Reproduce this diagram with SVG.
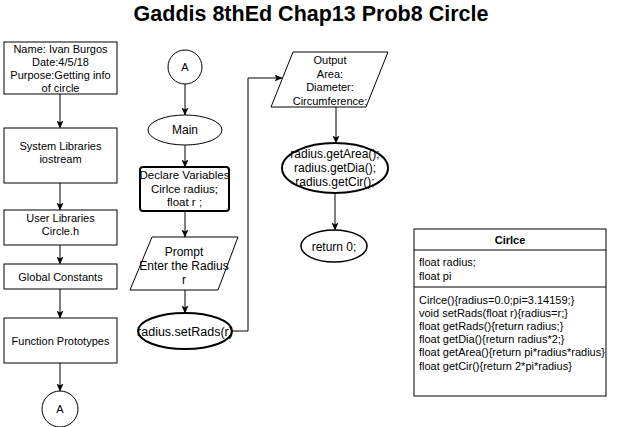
<svg xmlns="http://www.w3.org/2000/svg" width="622" height="427" viewBox="0 0 622 427">
<defs>
<marker id="arr" viewBox="0 0 8 7" refX="7.5" refY="3.5" markerWidth="8" markerHeight="7" markerUnits="userSpaceOnUse" orient="auto">
<path d="M0,0 L8,3.5 L0,7 L2,3.5 z" fill="#000"/>
</marker>
</defs>
<style>
text{font-family:"Liberation Sans",Arial,sans-serif;font-size:11px;fill:#000}
.c{text-anchor:middle}
.m{font-size:12px}
.m5{font-size:11.5px}
.l{font-size:12.5px}
.s{fill:#fff;stroke:#000;stroke-width:1}
.b{fill:#fff;stroke:#000;stroke-width:2}
.ln{fill:none;stroke:#000;stroke-width:1;marker-end:url(#arr)}
.t{font-size:21.5px;font-weight:bold}
</style>
<rect width="622" height="427" fill="#fff"/>
<text class="c t" x="311" y="21">Gaddis 8thEd Chap13 Prob8 Circle</text>

<g id="connectors">
<path class="ln" d="M60,94 V128"/>
<path class="ln" d="M60,183 V210"/>
<path class="ln" d="M60,245 V264"/>
<path class="ln" d="M60,289 V318"/>
<path class="ln" d="M60,363 V391"/>
<path class="ln" d="M185,84 V115"/>
<path class="ln" d="M185,145 V167"/>
<path class="ln" d="M185,211 V237"/>
<path class="ln" d="M185,290 V313"/>
<path class="ln" d="M232,331 H248 V78 H282"/>
<path class="ln" d="M336,107 V143"/>
<path class="ln" d="M335,193 V230"/>
</g>

<g id="info">
<rect class="s" x="4" y="42" width="113" height="52"/>
<text class="c" x="60.5" y="53">Name: Ivan Burgos</text>
<text class="c" x="60.5" y="66">Date:4/5/18</text>
<text class="c" x="60.5" y="79">Purpose:Getting info</text>
<text class="c" x="60.5" y="92">of circle</text>
</g>
<g id="syslib">
<rect class="s" x="4" y="128" width="113" height="55"/>
<text class="c" x="60.5" y="150">System Libraries</text>
<text class="c" x="60.5" y="163">iostream</text>
</g>
<g id="userlib">
<rect class="s" x="4" y="210" width="113" height="35"/>
<text class="c" x="60.5" y="222">User Libraries</text>
<text class="c" x="60.5" y="235">Circle.h</text>
</g>
<g id="globals">
<rect class="s" x="4" y="264" width="113" height="25"/>
<text class="c" x="60.5" y="281">Global Constants</text>
</g>
<g id="protos">
<rect class="s" x="4" y="318" width="113" height="45"/>
<text class="c" x="60.5" y="345">Function Prototypes</text>
</g>
<g id="connA1">
<circle class="s" cx="60" cy="409" r="18"/>
<text class="c" x="60" y="413">A</text>
</g>

<g id="connA2">
<circle class="s" cx="185" cy="67" r="17"/>
<text class="c" x="185" y="71">A</text>
</g>
<g id="main">
<ellipse class="s" cx="185" cy="130" rx="37" ry="15"/>
<text class="c m" x="185" y="134">Main</text>
</g>
<g id="declare">
<rect class="b" x="140" y="167" width="89" height="44" rx="3"/>
<text class="c m5" x="184.5" y="179">Declare Variables</text>
<text class="c m5" x="184.5" y="193">Cirlce radius;</text>
<text class="c m5" x="184.5" y="206">float r ;</text>
</g>
<g id="prompt">
<polygon class="s" points="152,237 238,237 218,290 130,290"/>
<text class="c m" x="184" y="256">Prompt</text>
<text class="c m" x="184" y="270">Enter the Radius</text>
<text class="c m" x="184" y="284">r</text>
</g>
<g id="setrads">
<ellipse class="b" cx="185" cy="331" rx="47" ry="18"/>
<text class="c l" x="185" y="335.5">radius.setRads(r)</text>
</g>

<g id="output">
<polygon class="s" points="293,52 388,52 366,107 271,107"/>
<text class="c" x="330" y="64">Output</text>
<text class="c" x="330" y="77.5">Area:</text>
<text class="c" x="330" y="91">Diameter:</text>
<text class="c" x="330" y="104.5">Circumference:</text>
</g>
<g id="getters">
<ellipse class="b" cx="335" cy="168" rx="53" ry="25"/>
<text class="c m" x="335" y="157.5">radius.getArea();</text>
<text class="c m" x="335" y="171.5">radius.getDia();</text>
<text class="c m" x="335" y="185.5">radius.getCir();</text>
</g>
<g id="return">
<ellipse class="s" cx="334" cy="246" rx="33" ry="16" style="stroke-width:1.5"/>
<text class="c m" x="334" y="250.5">return 0;</text>
</g>

<g id="class">
<rect class="s" x="414" y="229" width="192" height="167"/>
<line x1="414" y1="250" x2="606" y2="250" stroke="#000"/>
<line x1="414" y1="287" x2="606" y2="287" stroke="#000"/>
<text class="c" x="510" y="244" font-weight="bold">Cirlce</text>
<text x="419" y="266">float radius;</text>
<text x="419" y="280">float pi</text>
<text x="419" y="304">Cirlce(){radius=0.0;pi=3.14159;}</text>
<text x="419" y="317">void setRads(float r){radius=r;}</text>
<text x="419" y="330">float getRads(){return radius;}</text>
<text x="419" y="343">float getDia(){return radius*2;}</text>
<text x="419" y="356">float getArea(){return pi*radius*radius}</text>
<text x="419" y="370">float getCir(){return 2*pi*radius}</text>
</g>
</svg>
